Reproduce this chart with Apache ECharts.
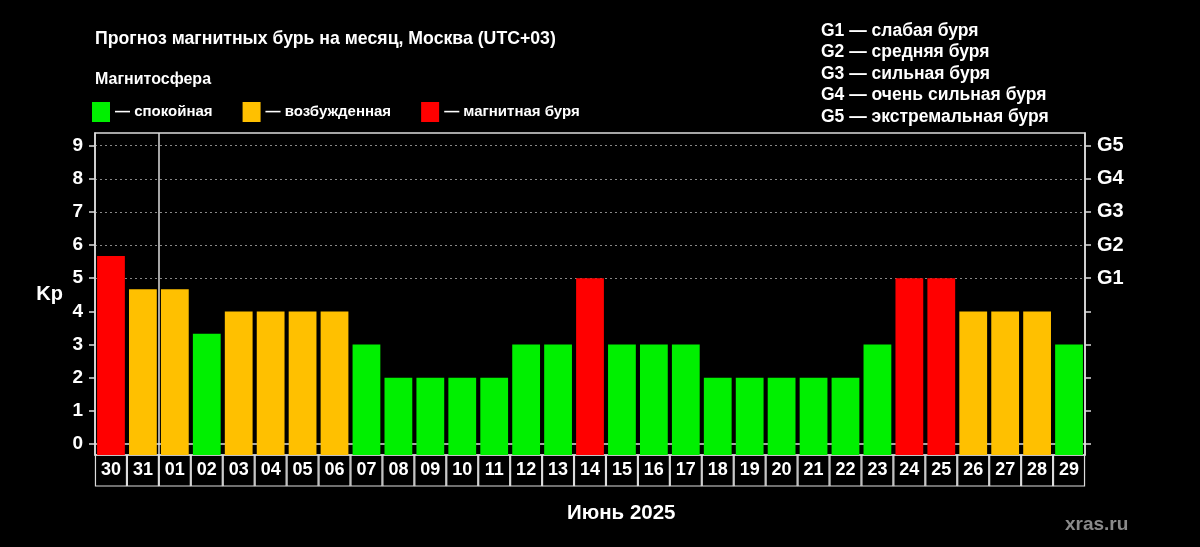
<!DOCTYPE html>
<html><head><meta charset="utf-8">
<script src="https://cdn.jsdelivr.net/npm/echarts@6/dist/echarts.min.js"></script>
<style>html,body{margin:0;padding:0;background:#000;}#c{width:1200px;height:547px;}</style>
</head><body><div id="c"></div>
<script>
const days = ['30','31','01','02','03','04','05','06','07','08','09','10','11','12','13','14','15','16','17','18','19','20','21','22','23','24','25','26','27','28','29'];
const kp = [5.67,4.67,4.67,3.33,4,4,4,4,3,2,2,2,2,3,3,5,3,3,3,2,2,2,2,2,3,5,5,4,4,4,3];
// 0 = calm, 1 = active, 2 = storm
const level = [2,1,1,0,1,1,1,1,0,0,0,0,0,0,0,2,0,0,0,0,0,0,0,0,0,2,2,1,1,1,0];
const levelNames = ['— спокойная','— возбужденная','— магнитная буря'];
const levelColors = ['#00f000','#ffc000','#ff0000'];
const yTicks = [0,1,2,3,4,5,6,7,8,9];
const gTickValues = [5,6,7,8,9];
const gLabels = ['G1','G2','G3','G4','G5'];
const gLegend = ['G1 — слабая буря','G2 — средняя буря','G3 — сильная буря','G4 — очень сильная буря','G5 — экстремальная буря'];
const monthStart = [2]; // category index where the current month begins
const titleText = 'Прогноз магнитных бурь на месяц, Москва (UTC+03)';
const subTitle = 'Магнитосфера';
const xName = 'Июнь 2025';
const yName = 'Kp';
const watermark = 'xras.ru';

const FF = "'Liberation Sans', Arial, sans-serif";
const chart = echarts.init(document.getElementById('c'));
const yMin = -0.33, yMax = 9.38;

const series = levelNames.map((name, li) => ({
  name: name,
  type: 'bar',
  barGap: '-100%',
  barCategoryGap: '13%',
  itemStyle: { color: levelColors[li] },
  data: kp.map((v, i) => level[i] === li ? v : '-'),
  animation: false
}));

chart.setOption({
  backgroundColor: '#000',
  animation: false,
  textStyle: { fontFamily: FF },
  title: [
    { text: titleText, left: 90, top: 25, textStyle: { color: '#fff', fontSize: 17.7, fontWeight: 'bold', fontFamily: FF } },
    { text: subTitle, left: 90, top: 67, textStyle: { color: '#fff', fontSize: 16, fontWeight: 'bold', fontFamily: FF } },
    { text: gLegend.join('\n'), left: 816, top: 15, textStyle: { color: '#fff', fontSize: 17.5, fontWeight: 'bold', fontFamily: FF, lineHeight: 21.5 } },
    { text: xName, left: 562, top: 498, textStyle: { color: '#fff', fontSize: 20.5, fontWeight: 'bold', fontFamily: FF } },
    { text: watermark, left: 1060, top: 510, textStyle: { color: '#8a8a8a', fontSize: 19, fontWeight: 'bold', fontFamily: FF } }
  ],
  legend: {
    left: 87, top: 97, itemWidth: 18, itemHeight: 20, itemGap: 30,
    icon: 'rect',
    textStyle: { color: '#fff', fontSize: 15, fontWeight: 'bold', fontFamily: FF },
    data: levelNames
  },
  grid: { left: 95, right: 115, top: 133, bottom: 92, show: true, borderColor: '#ddd', borderWidth: 1.5 },
  xAxis: [
    {
      type: 'category', data: days, boundaryGap: true,
      axisLine: { lineStyle: { color: '#ddd', width: 1.5 } },
      axisTick: { show: false },
      splitLine: { show: false },
      axisLabel: {
        color: '#fff', fontSize: 18, fontWeight: 'bold', fontFamily: FF, margin: 0, interval: 0,
        width: 31, height: 31, lineHeight: 31, align: 'center', verticalAlign: 'top',
        borderColor: '#ddd', borderWidth: 1.2, padding: 0
      }
    },
    {
      type: 'value', min: 0, max: days.length, position: 'bottom',
      axisLine: { show: false }, axisLabel: { show: false },
      axisTick: { show: false, customValues: monthStart },
      splitLine: { show: true, lineStyle: { color: '#ddd', width: 1.5 } }
    }
  ],
  yAxis: [
    {
      type: 'value', min: yMin, max: yMax, startValue: yMin,
      name: yName, nameLocation: 'middle', nameRotate: 0, nameGap: 32,
      nameTextStyle: { color: '#fff', fontSize: 20, fontWeight: 'bold', fontFamily: FF },
      axisLine: { show: true, lineStyle: { color: '#ddd', width: 1.5 } },
      axisTick: { show: true, length: 6, customValues: yTicks, lineStyle: { color: '#ddd', width: 1.5 } },
      axisLabel: { color: '#fff', fontSize: 19, fontWeight: 'bold', fontFamily: FF, margin: 12, customValues: yTicks },
      splitLine: { show: false }
    },
    {
      type: 'value', min: yMin, max: yMax, position: 'right',
      axisLine: { show: true, lineStyle: { color: '#ddd', width: 1.5 } },
      axisTick: { show: true, length: 6, customValues: yTicks, lineStyle: { color: '#ddd', width: 1.5 } },
      axisLabel: { color: '#fff', fontSize: 20, fontWeight: 'bold', fontFamily: FF, margin: 12, customValues: gTickValues,
        formatter: (v) => gLabels[gTickValues.indexOf(Math.round(v))] || '' },
      splitLine: { show: false }
    },
    {
      type: 'value', min: yMin, max: yMax, position: 'left',
      axisLine: { show: false }, axisLabel: { show: false },
      axisTick: { show: false, customValues: gTickValues },
      splitLine: { show: true, lineStyle: { color: '#888', type: [2, 3], width: 1 } }
    }
  ],
  series: series
});
</script></body></html>
